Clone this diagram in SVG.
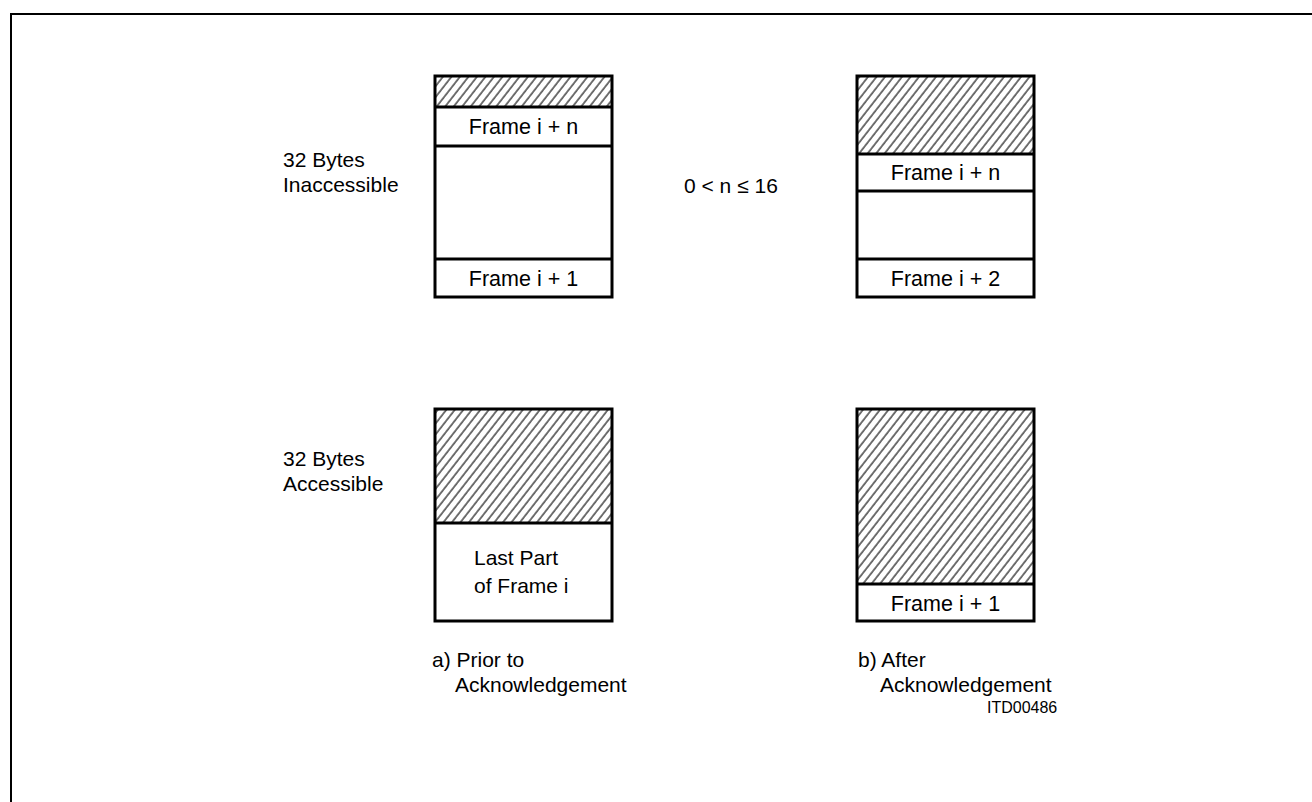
<svg xmlns="http://www.w3.org/2000/svg" width="1312" height="802" viewBox="0 0 1312 802">
<style>
text{font-family:"Liberation Sans","Arial",sans-serif;font-size:21px;fill:#000}
.box{fill:none;stroke:#000;stroke-width:3}
.div{stroke:#000;stroke-width:3}
.hatch{fill:url(#hatch);stroke:none}
.small{font-size:16px}
.c{text-anchor:middle}
.f{font-size:21.5px}
</style>
<defs>
<pattern id="hatch" patternUnits="userSpaceOnUse" width="6.7" height="20" patternTransform="rotate(38)">
<rect width="6.7" height="20" fill="#fff"/>
<line x1="1" y1="0" x2="1" y2="20" stroke="#000" stroke-width="1.1"/>
</pattern>
</defs>
<g id="frame"><path d="M11 802 V14 H1312" fill="none" stroke="#000" stroke-width="2"/></g>
<g id="labels">
<text x="283" y="167">32 Bytes</text>
<text x="283" y="192">Inaccessible</text>
<text x="684" y="193">0 &lt; n ≤ 16</text>
<text x="283" y="466">32 Bytes</text>
<text x="283" y="491">Accessible</text>
<text x="432" y="667">a) Prior to</text>
<text x="455" y="692">Acknowledgement</text>
<text x="858" y="667">b) After</text>
<text x="880" y="692">Acknowledgement</text>
<text class="small" x="987" y="713">ITD00486</text>
</g>
<g id="boxA">
<rect class="hatch" x="435" y="76" width="177" height="31"/>
<line class="div" x1="435" y1="107" x2="612" y2="107"/>
<line class="div" x1="435" y1="146" x2="612" y2="146"/>
<line class="div" x1="435" y1="259" x2="612" y2="259"/>
<rect class="box" x="435" y="76" width="177" height="221"/>
<text class="c f" x="523.5" y="134">Frame i + n</text>
<text class="c f" x="523.5" y="286">Frame i + 1</text>
</g>
<g id="boxB">
<rect class="hatch" x="857" y="76" width="177" height="78"/>
<line class="div" x1="857" y1="154" x2="1034" y2="154"/>
<line class="div" x1="857" y1="191" x2="1034" y2="191"/>
<line class="div" x1="857" y1="259" x2="1034" y2="259"/>
<rect class="box" x="857" y="76" width="177" height="221"/>
<text class="c f" x="945.5" y="180">Frame i + n</text>
<text class="c f" x="945.5" y="286">Frame i + 2</text>
</g>
<g id="boxC">
<rect class="hatch" x="435" y="409" width="177" height="114"/>
<line class="div" x1="435" y1="523" x2="612" y2="523"/>
<rect class="box" x="435" y="409" width="177" height="212"/>
<text x="474" y="565">Last Part</text>
<text x="474" y="593">of Frame i</text>
</g>
<g id="boxD">
<rect class="hatch" x="857" y="409" width="177" height="175"/>
<line class="div" x1="857" y1="584" x2="1034" y2="584"/>
<rect class="box" x="857" y="409" width="177" height="212"/>
<text class="c f" x="945.5" y="611">Frame i + 1</text>
</g>
<g id="connectors"/>
</svg>
